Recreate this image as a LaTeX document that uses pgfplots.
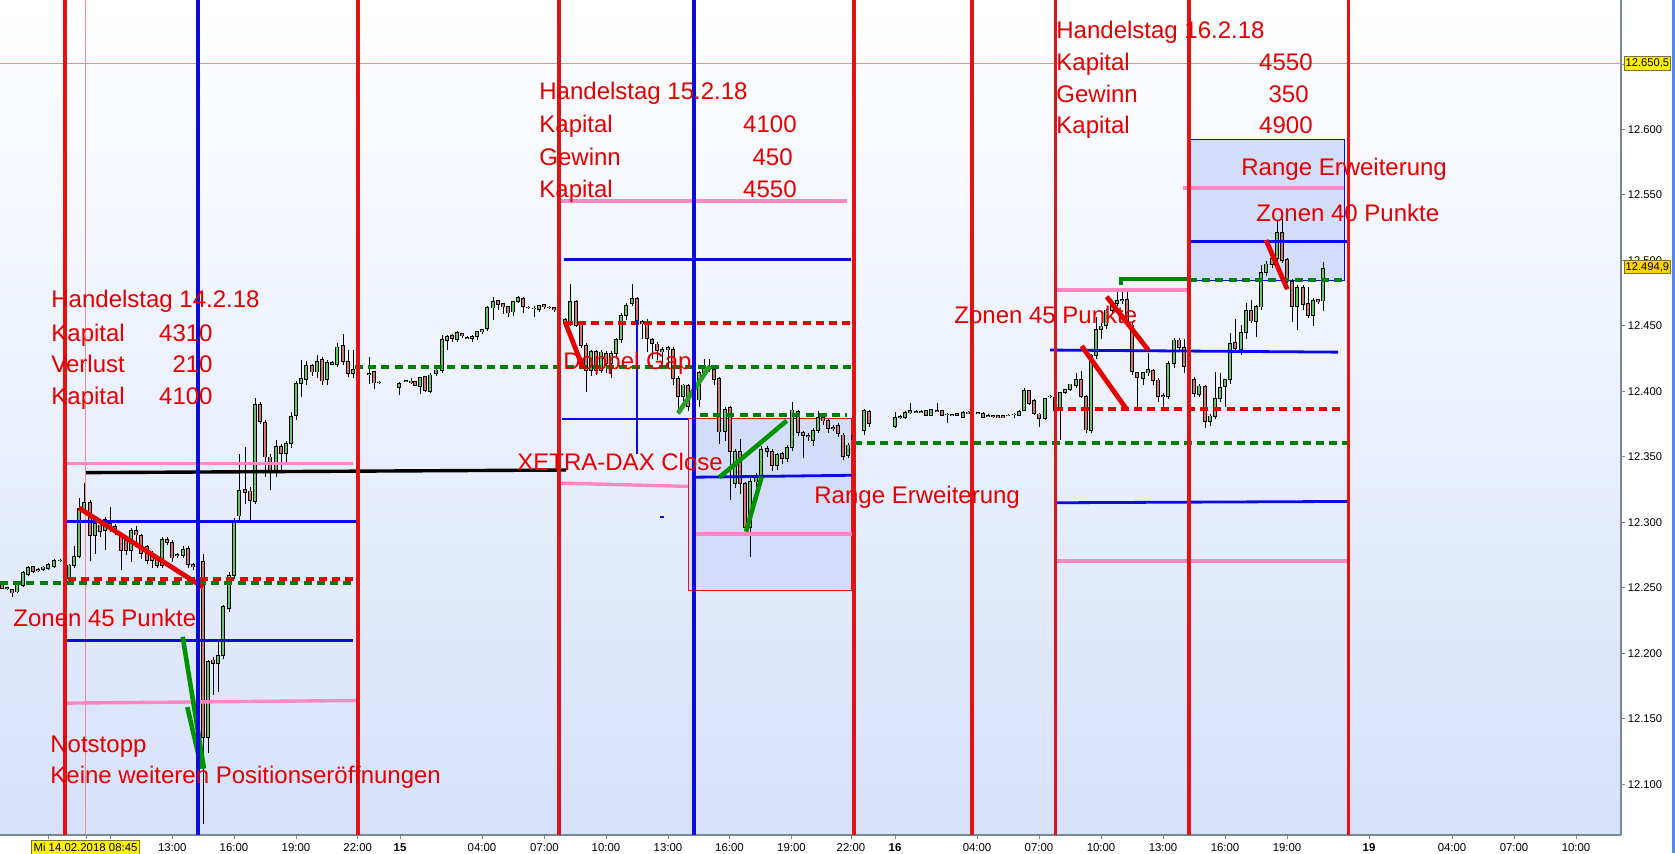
\documentclass[border=0pt]{standalone}
\usepackage{fontspec}
\setmainfont{Liberation Sans}
\usepackage{pgfplots}
\pgfplotsset{compat=1.18}
\usepackage{pgfplotstable}
\definecolor{annred}{RGB}{230,0,0}
\definecolor{vred}{RGB}{228,18,18}
\definecolor{lblue}{RGB}{10,10,225}
\definecolor{lpink}{RGB}{255,135,195}
\definecolor{dgreen}{RGB}{0,128,0}
\definecolor{cgreen}{RGB}{100,198,100}
\definecolor{cred}{RGB}{206,122,112}
\definecolor{bgblue}{RGB}{214,225,250}
\definecolor{boxfill}{RGB}{210,222,249}
\definecolor{axisgray}{RGB}{120,135,150}
\definecolor{stripblue}{RGB}{85,140,230}
\definecolor{lastyellow}{RGB}{255,210,0}
\tikzset{
  vline/.style={vred, line width=1.6pt},
  bline/.style={lblue, line width=1.4pt},
  pline/.style={lpink, line width=1.7pt},
  gdash/.style={dgreen, line width=2pt, dash pattern=on 4pt off 2.6pt},
  rdash/.style={annred, line width=2pt, dash pattern=on 4pt off 2.6pt},
  rdiag/.style={annred, line width=2.4pt},
  gdiag/.style={dgreen!85!green, line width=2.3pt},
  ann/.style={text=annred, font=\fontsize{12}{14}\selectfont, inner sep=0pt},
}

\pgfplotstableread{
x o h l c
2 12253 12254 12248.9 12249.6
7 12249.5 12251 12248.5 12250.5
12 12248.9 12249.5 12243.3 12246.3
17 12247 12254 12246 12253
23 12252 12263 12251 12261.5
28 12260.6 12267 12259 12265.7
33 12266 12267 12261 12262.5
38 12263 12265 12262 12264
43 12264 12267 12263 12266
48 12265 12269 12264 12268
54 12266.7 12272 12265 12270.8
60 12271 12272 12270 12271.2
65 12270 12275 12256 12258
69 12257 12268 12255 12267.5
74 12267 12282 12265 12274
79 12274 12319 12273 12310.7
84 12310 12330 12308 12315
90 12315 12317 12271 12290
95 12290 12301 12276 12299
100 12298 12302 12289 12293
105 12294 12304 12279 12302
110 12299 12312 12293 12296
115 12293 12299 12290 12297
121 12291.6 12293 12263.6 12279
126 12286 12288 12275 12279
131 12279 12296 12270 12294
136 12294 12297 12285 12290.4
141 12290 12291 12272 12276.4
147 12281.5 12283 12268 12271.3
152 12276 12278 12265 12271
157 12267.5 12274 12265 12272.6
162 12267.5 12289 12265 12287
167 12287 12289 12283 12285
172 12285 12287 12270 12273
177 12275 12277 12273 12275.5
183 12275 12282 12273 12279.4
188 12280 12282 12265 12268
193 12268 12269 12264 12266
198 12267 12270 12265 12268
203 12270 12276 12070 12136
208 12136 12195 12123.6 12193.6
213 12195 12197 12168 12192.4
218 12192.4 12209 12170.7 12198.7
223 12198.7 12237 12196 12235.6
229 12234.4 12262 12232 12259.8
234 12259.8 12303 12257 12301.8
239 12305 12352 12302 12324
245 12325 12358 12314.5 12323
250 12324 12327 12302 12317
255 12316 12395 12314 12390
260 12390 12392 12375 12377
265 12376 12378 12335 12350
270 12350 12352 12325 12339
276 12339 12363 12335 12358
281 12358 12360 12338 12353
286 12353 12362 12345 12360
291 12360 12384 12357 12381
296 12382 12408 12378 12406
301 12406 12424 12396 12410
306 12409 12423 12405 12420
312 12420 12421 12412 12415
317 12415 12428 12410 12422.7
322 12424 12426 12405 12408
327 12409 12424 12405 12422
332 12421 12423 12420 12422
337 12421 12437 12419 12434
343 12435 12444 12420 12423
348 12423 12432 12411 12414
353 12414 12432 12410 12417
358 12417 12418 12416 12417.5
369 12413 12426 12406 12413.5
374 12415.6 12416 12402 12406.7
379 12407 12408 12406 12407.2
399 12403 12407 12397 12406
406 12408 12409 12407 12408.3
411 12408 12410 12406 12407
415 12407.4 12408 12404 12404.9
420 12404 12411.5 12398 12410.7
425 12411.3 12412 12400 12401
430 12400 12414 12399 12412.5
436 12413.8 12417 12412 12416.3
442 12416.3 12443 12414 12439.7
447 12439.2 12443 12432 12442.3
452 12443 12444 12438 12440.5
457 12439.7 12446 12438 12444.8
462 12444 12445 12441 12443
467 12441 12442 12440 12441.3
472 12440.5 12443 12438 12442.3
477 12442.3 12446 12439 12445.6
482 12445.6 12448 12444 12447.4
487 12448.1 12465 12446 12463.9
493 12463.9 12472.3 12455 12468.5
498 12469.2 12470 12462 12466.7
503 12467.2 12468 12459 12464.7
508 12464.7 12465 12457 12460.1
513 12460.8 12469 12458 12468.5
518 12469.2 12473 12468 12471.5
523 12471 12472 12460 12465.2
528 12464.5 12465 12463 12464
534 12463.4 12465 12457 12463.6
539 12462.6 12466 12461 12465.4
544 12466.4 12467 12463 12464.7
549 12464.5 12465 12463 12464.2
554 12463.9 12464 12461 12462.6
559 12462.6 12463 12450 12452.4
565 12455 12456 12451 12452
570 12452 12482.5 12450 12468.5
576 12468.5 12470 12449 12450.7
581 12450.7 12452 12433 12435
586 12435 12437 12399.8 12416.3
591 12416.3 12432 12412 12430.3
596 12430.3 12432 12412.5 12416.3
601 12416 12432 12414 12430
606 12429 12431 12414 12421.4
611 12421.4 12431 12410 12429
616 12429 12441 12426 12439.7
621 12439.7 12460 12437 12458.3
626 12458.3 12468 12455 12465.9
632 12467.2 12482 12465 12471
637 12471 12472 12450 12453.2
642 12453.2 12455 12440 12452
647 12453.2 12455 12430 12440.5
652 12439.7 12441 12425 12436.7
657 12436.2 12438 12424 12431.1
662 12430.3 12434 12420 12432
668 12432 12435 12418 12433.6
673 12432 12434 12405 12410
678 12410 12412 12383 12396
683 12396 12406 12393 12404.9
688 12404.9 12406 12385 12388.4
694 12389 12396 12386 12393
699 12393.5 12416 12388 12414.3
704 12414.3 12425 12412 12418.9
709 12418.9 12425 12415 12416.5
714 12416.9 12418 12405 12409.2
719 12410 12411 12360 12369.3
725 12369.3 12388 12362 12386.3
730 12387.9 12389 12317 12354
735 12329.8 12356 12326 12354
740 12354 12364 12322 12329.8
745 12329.8 12331 12294 12296.2
750 12296.2 12334 12273.8 12331
756 12331 12338 12326 12334.9
761 12334.9 12358 12332 12355.8
767 12356.6 12358 12350 12354
772 12354 12356 12339 12343.8
777 12343.8 12353 12340 12351.5
782 12352.7 12354 12345 12348.9
787 12348.9 12359 12346 12357.3
792 12357.3 12392 12355 12385.8
798 12384.5 12386 12366 12368.5
803 12368.5 12370 12349 12366.7
808 12366.7 12368 12362 12365.5
813 12362.9 12372 12358 12370.5
818 12370.5 12385 12368 12380.2
823 12380.2 12382 12374 12377.7
828 12377.7 12379 12368 12371.8
833 12372.5 12374 12370 12372
838 12374.4 12376 12365 12368
843 12366.7 12368 12348 12350.2
848 12351.5 12361 12349 12359.1
853 12363 12368 12361 12366.7
864 12370 12387 12367 12385.3
869 12384.5 12386 12373 12375.6
895 12373.1 12384.5 12371.8 12380.2
900 12380 12382 12379 12381
905 12380.2 12385 12379 12384
910 12384 12390.9 12383 12385.5
916 12384.5 12385.5 12383.5 12384.6
921 12384.5 12385.5 12383.5 12384.5
926 12385.3 12386 12381 12382
931 12382 12387 12381 12386.3
937 12385.3 12391.4 12384 12385
942 12385.3 12386 12381 12382
947 12382.5 12383.5 12375.6 12382.6
952 12381.5 12383 12381 12382.5
957 12383.3 12384 12381 12382
963 12380.2 12385 12379.5 12384
968 12384 12385 12383 12384
978 12383.8 12384.5 12383 12383.8
983 12383.3 12384 12379.5 12380.2
988 12381.5 12382.5 12380.5 12381.5
993 12381.5 12382 12380 12380.7
998 12381.5 12382 12380 12380.2
1003 12381.5 12382 12379.5 12380.2
1008 12382 12383 12381 12382
1014 12382.5 12383.5 12379.5 12382.5
1019 12382 12386 12381 12385
1024 12385.8 12403 12385 12400.6
1029 12400.6 12401 12390 12390.9
1034 12393 12394 12382 12383.3
1039 12382.8 12384 12373 12379.5
1045 12379.5 12395.5 12378 12394.7
1050 12396 12397 12395 12396.5
1055 12395.5 12396 12385 12385.8
1060 12385.8 12400 12362.9 12399.3
1065 12399.3 12402 12398 12401.6
1070 12401.6 12406 12400 12405.7
1076 12405 12414 12403 12409.2
1081 12409.2 12416 12395 12396
1086 12396 12397 12368 12370.6
1091 12370.6 12429 12368 12427.8
1096 12427.8 12457 12425 12447.4
1101 12447.4 12452 12440 12450
1106 12450.7 12463 12448 12462.2
1112 12462.2 12469 12460 12467.8
1117 12467.3 12477.5 12465 12469.3
1122 12469.3 12477.5 12467 12470
1127 12470.3 12477.5 12450 12452
1132 12450.7 12452 12413 12415.1
1137 12414.3 12415 12387 12410.8
1143 12410 12415 12405 12414.3
1148 12414.3 12429 12412 12416.9
1153 12415.9 12417 12405 12408.7
1158 12408.7 12410 12392 12396
1163 12397 12399 12385 12396.2
1168 12396 12423 12394 12421.5
1174 12421.5 12441 12418 12439.3
1179 12439.3 12441 12430 12433.7
1184 12433.7 12440 12414 12419.4
1189 12419.4 12421 12405 12409.5
1194 12409.2 12411 12396 12398.6
1199 12398 12406 12396 12404.1
1205 12404.1 12405 12372 12376.9
1210 12376.9 12383 12374 12381.2
1215 12381.2 12415 12379 12394.7
1220 12394.7 12414 12392 12403.1
1225 12404.1 12409.5 12388 12409.2
1230 12409.2 12445 12406 12436.7
1235 12437.2 12455 12430 12432.9
1241 12432.1 12451 12428 12444.9
1246 12444.9 12468 12440 12461.7
1251 12461.7 12470 12452 12454
1256 12453.3 12466 12441.8 12464.7
1261 12464.7 12497 12462 12490.7
1266 12490.7 12500 12488 12497.3
1272 12497.3 12503 12494 12501.6
1277 12501.6 12530.4 12500 12521.2
1282 12521.2 12532 12498 12500.4
1287 12500.4 12502 12483 12485.6
1292 12483.8 12486 12453 12465.2
1297 12465.2 12481 12447 12479.5
1303 12479.5 12481 12462 12466.8
1308 12467.3 12480 12456 12458.4
1313 12458.4 12471 12450 12469.3
1318 12470.3 12471 12467 12468.5
1323 12469.3 12499 12461.7 12494
}\candles

\begin{document}
\begin{tikzpicture}
\fill[white] (0,-9pt) rectangle (837.5pt,417.5pt);
\begin{axis}[
  at={(0,0)}, anchor=south west,
  scale only axis, width=810.5pt, height=417.5pt,
  xmin=0, xmax=1621, ymin=12061.3, ymax=12698.9,
  axis x line*=bottom, axis y line*=right,
  axis line style={draw=axisgray, line width=0.6pt},
  axis background/.style={top color=white, bottom color=bgblue},
  tick align=outside, major tick length=2.2pt,
  tick style={draw=axisgray, line width=0.5pt},
  ytick={12100,12150,12200,12250,12300,12350,12400,12450,12500,12550,12600,12650,12700},
  yticklabels={12.100,12.150,12.200,12.250,12.300,12.350,12.400,12.450,12.500,12.550,12.600,,12.700},
  yticklabel style={font=\fontsize{5.6}{6}\selectfont, inner sep=1pt},
  xtick={48.6,86,110.6,172.3,234,296,357.7,400,482,544.5,606,668,729.5,791.5,851,895,977,1039,1101,1163,1225,1287,1369,1452,1514,1576},
  xticklabels={,,,13:00,16:00,19:00,22:00,{\bfseries 15},04:00,07:00,10:00,13:00,16:00,19:00,22:00,{\bfseries 16},04:00,07:00,10:00,13:00,16:00,19:00,{\bfseries 19},04:00,07:00,10:00},
  xticklabel style={font=\fontsize{5.7}{6}\selectfont, inner sep=1pt, yshift=-1.1pt},
  clip=false,
]
% boxes
\addplot[fill=boxfill, draw=vred, line width=0.5pt, forget plot] coordinates {(688,12247.9) (851,12247.9) (851,12379.5) (688,12379.5) (688,12247.9)};
\addplot[fill=boxfill, draw=lblue, line width=0.5pt, forget plot] coordinates {(1189,12485) (1344,12485) (1344,12592.7) (1189,12592.7) (1189,12485)};
% thin lines
\addplot[draw={rgb,255:red,240;green,140;blue,140}, line width=0.5pt, forget plot] coordinates {(0,12650.5) (1621,12650.5)};
\addplot[draw={rgb,255:red,240;green,140;blue,140}, line width=0.6pt, forget plot] coordinates {(85.7,12061.3) (85.7,12698.9)};
% candles: wicks
\addplot[draw=none, mark=none, forget plot, error bars/.cd, y dir=both, y explicit, error mark=none, error bar style={draw=black, line width=0.5pt}]
  table[x=x, y expr={(\thisrow{h}+\thisrow{l})/2}, y error expr={(\thisrow{h}-\thisrow{l})/2}] {\candles};
% up bodies
\addplot[draw=none, mark=none, forget plot, x filter/.expression={\thisrow{c}>=\thisrow{o} ? x : nan}, error bars/.cd, y dir=both, y explicit, error mark=none, error bar style={draw=black, line width=2.1pt}]
  table[x=x, y expr={(\thisrow{o}+\thisrow{c})/2}, y error expr={abs(\thisrow{c}-\thisrow{o})/2+0.4}] {\candles};
\addplot[draw=none, mark=none, forget plot, x filter/.expression={\thisrow{c}>=\thisrow{o} ? x : nan}, error bars/.cd, y dir=both, y explicit, error mark=none, error bar style={draw=cgreen, line width=1.35pt}]
  table[x=x, y expr={(\thisrow{o}+\thisrow{c})/2}, y error expr={max(abs(\thisrow{c}-\thisrow{o})/2-0.25,0.02)}] {\candles};
% down bodies
\addplot[draw=none, mark=none, forget plot, x filter/.expression={\thisrow{c}<\thisrow{o} ? x : nan}, error bars/.cd, y dir=both, y explicit, error mark=none, error bar style={draw=black, line width=2.1pt}]
  table[x=x, y expr={(\thisrow{o}+\thisrow{c})/2}, y error expr={abs(\thisrow{c}-\thisrow{o})/2+0.4}] {\candles};
\addplot[draw=none, mark=none, forget plot, x filter/.expression={\thisrow{c}<\thisrow{o} ? x : nan}, error bars/.cd, y dir=both, y explicit, error mark=none, error bar style={draw=cred, line width=1.35pt}]
  table[x=x, y expr={(\thisrow{o}+\thisrow{c})/2}, y error expr={max(abs(\thisrow{c}-\thisrow{o})/2-0.25,0.02)}] {\candles};

% ---- day 1 lines
\addplot[pline, forget plot] coordinates {(65,12345) (353,12345)};
\addplot[black, line width=1.7pt, forget plot] coordinates {(86,12338) (566,12340)};
\addplot[bline, forget plot] coordinates {(65,12300.5) (357,12300.5)};
\addplot[gdash, forget plot] coordinates {(0,12254) (356,12254)};
\addplot[rdash, forget plot] coordinates {(68,12256.5) (356,12256.5)};
\addplot[bline, forget plot] coordinates {(65,12210) (353,12210)};
\addplot[pline, forget plot] coordinates {(65,12162) (357,12164)};
\addplot[gdash, forget plot] coordinates {(355,12419) (852,12419)};
\addplot[rdiag, forget plot] coordinates {(79,12311) (203,12250.6)};
\addplot[gdiag, forget plot] coordinates {(182.7,12212.7) (204,12112)};
\addplot[gdiag, forget plot] coordinates {(187.3,12159) (201.7,12112)};
% ---- day 2 lines
\addplot[pline, forget plot] coordinates {(559,12545.4) (847,12545.4)};
\addplot[bline, forget plot] coordinates {(564,12500.7) (851,12500.7)};
\addplot[rdash, forget plot] coordinates {(565,12452) (851,12452)};
\addplot[bline, forget plot] coordinates {(562,12379) (688,12379)};
\addplot[bline, forget plot] coordinates {(637,12352) (637,12454.5)};
\addplot[pline, forget plot] coordinates {(559,12330) (688,12327.5)};
\addplot[gdash, forget plot] coordinates {(700,12382) (847,12382)};
\addplot[bline, forget plot] coordinates {(695,12334.5) (853,12336)};
\addplot[pline, forget plot] coordinates {(695,12291) (853,12291)};
\addplot[lblue, line width=0.8pt, forget plot] coordinates {(660,12304) (664,12304)};
\addplot[rdiag, forget plot] coordinates {(565,12453.2) (583.3,12417.6)};
\addplot[gdiag, draw={rgb,255:red,40;green,160;blue,40}, forget plot] coordinates {(678,12383.3) (710,12419.4)};
\addplot[gdiag, forget plot] coordinates {(719.3,12334.4) (786.7,12377.6)};
\addplot[gdiag, forget plot] coordinates {(746,12292.9) (761.7,12334.9)};
% ---- day 3 lines
\addplot[pline, forget plot] coordinates {(1055,12477.4) (1188,12477.4)};
\addplot[dgreen, line width=1.8pt, forget plot] coordinates {(1121,12481) (1121,12486) (1189,12486)};
\addplot[gdash, forget plot] coordinates {(1189,12485) (1348,12485)};
\addplot[bline, forget plot] coordinates {(1050,12431.6) (1338,12430)};
\addplot[rdash, forget plot] coordinates {(1055,12386.6) (1343,12386.6)};
\addplot[gdash, forget plot] coordinates {(854,12360.4) (1348,12360.4)};
\addplot[bline, forget plot] coordinates {(1055,12315) (1348,12316)};
\addplot[pline, forget plot] coordinates {(1055,12270.5) (1348,12270.5)};
\addplot[bline, forget plot] coordinates {(1189,12514.6) (1348,12514.6)};
\addplot[pline, forget plot] coordinates {(1183,12555.3) (1344,12555.3)};
\addplot[rdiag, forget plot] coordinates {(1081.7,12434.7) (1126.7,12386.3)};
\addplot[rdiag, forget plot] coordinates {(1106.7,12472.3) (1148.3,12431.6)};
\addplot[rdiag, forget plot] coordinates {(1266,12515.6) (1287.3,12478)};
% ---- vertical lines
\addplot[vline, forget plot] coordinates {(65,12061.3) (65,12698.9)};
\addplot[vline, forget plot] coordinates {(358,12061.3) (358,12698.9)};
\addplot[vline, forget plot] coordinates {(559,12061.3) (559,12698.9)};
\addplot[vline, forget plot] coordinates {(854,12061.3) (854,12698.9)};
\addplot[vline, forget plot] coordinates {(972,12061.3) (972,12698.9)};
\addplot[vline, forget plot] coordinates {(1055.5,12061.3) (1055.5,12698.9)};
\addplot[vline, forget plot] coordinates {(1189,12061.3) (1189,12698.9)};
\addplot[vline, forget plot] coordinates {(1348.5,12061.3) (1348.5,12698.9)};
\addplot[lblue, line width=1.6pt, forget plot] coordinates {(198,12061.3) (198,12698.9)};
\addplot[lblue, line width=1.6pt, forget plot] coordinates {(694,12061.3) (694,12698.9)};

% ---- texts day 1
\node[ann, anchor=base west] at (axis cs:51,12464.1) {Handelstag 14.2.18};
\node[ann, anchor=base west] at (axis cs:51,12438.1) {Kapital};
\node[ann, anchor=base east] at (axis cs:213,12438.1) {4310};
\node[ann, anchor=base west] at (axis cs:51,12414.4) {Verlust};
\node[ann, anchor=base east] at (axis cs:213,12414.4) {210};
\node[ann, anchor=base west] at (axis cs:51,12390.0) {Kapital};
\node[ann, anchor=base east] at (axis cs:213,12390.0) {4100};
\node[ann, anchor=base west] at (axis cs:13,12220.5) {Zonen 45 Punkte};
\node[ann, anchor=base west] at (axis cs:50,12124.3) {Notstopp};
\node[ann, anchor=base west] at (axis cs:50,12100.6) {Keine weiteren Positionseröffnungen};
% ---- texts day 2
\node[ann, anchor=base west] at (axis cs:539,12622.9) {Handelstag 15.2.18};
\node[ann, anchor=base west] at (axis cs:539,12597.7) {Kapital};
\node[ann, anchor=base east] at (axis cs:797,12597.7) {4100};
\node[ann, anchor=base west] at (axis cs:539,12572.5) {Gewinn};
\node[ann, anchor=base east] at (axis cs:793,12572.5) {450};
\node[ann, anchor=base west] at (axis cs:539,12548.1) {Kapital};
\node[ann, anchor=base east] at (axis cs:797,12548.1) {4550};
\node[ann, anchor=base west] at (axis cs:563,12416.7) {Doppel Gap};
\node[ann, anchor=base west] at (axis cs:517,12339.6) {XETRA-DAX Close};
\node[ann, anchor=base west] at (axis cs:814,12314.4) {Range Erweiterung};
% ---- texts day 3
\node[ann, anchor=base west] at (axis cs:1056,12669.5) {Handelstag 16.2.18};
\node[ann, anchor=base west] at (axis cs:1056,12645.0) {Kapital};
\node[ann, anchor=base east] at (axis cs:1313,12645.0) {4550};
\node[ann, anchor=base west] at (axis cs:1056,12620.6) {Gewinn};
\node[ann, anchor=base east] at (axis cs:1309,12620.6) {350};
\node[ann, anchor=base west] at (axis cs:1056,12596.9) {Kapital};
\node[ann, anchor=base east] at (axis cs:1313,12596.9) {4900};
\node[ann, anchor=base west] at (axis cs:954,12451.8) {Zonen 45 Punkte};
\node[ann, anchor=base west] at (axis cs:1241,12564.9) {Range Erweiterung};
\node[ann, anchor=base west] at (axis cs:1256,12529.7) {Zonen 40 Punkte};
% ---- price boxes and date box
\node[fill=yellow, draw={rgb,255:red,120;green,120;blue,40}, line width=0.4pt, inner xsep=0.6pt, inner ysep=1pt, anchor=west, font=\fontsize{5.6}{6}\selectfont] at (axis cs:1624,12650.5) {12.650,5};
\node[fill=lastyellow, draw={rgb,255:red,120;green,120;blue,40}, line width=0.4pt, inner xsep=0.6pt, inner ysep=1pt, anchor=west, font=\fontsize{5.6}{6}\selectfont] at (axis cs:1624,12494.9) {12.494,9};
\node[fill=yellow, draw={rgb,255:red,120;green,120;blue,40}, line width=0.3pt, inner xsep=1pt, inner ysep=1.5pt, anchor=north, font=\fontsize{5.7}{6}\selectfont, yshift=-2.3pt] at (axis cs:85.5,12061.3) {Mi 14.02.2018 08:45};
\end{axis}
\fill[stripblue] (835.8pt,-9pt) rectangle (837.5pt,417.5pt);
\pgfresetboundingbox
\path[use as bounding box] (0,-9pt) rectangle (837.5pt,417.5pt);
\end{tikzpicture}
\end{document}
